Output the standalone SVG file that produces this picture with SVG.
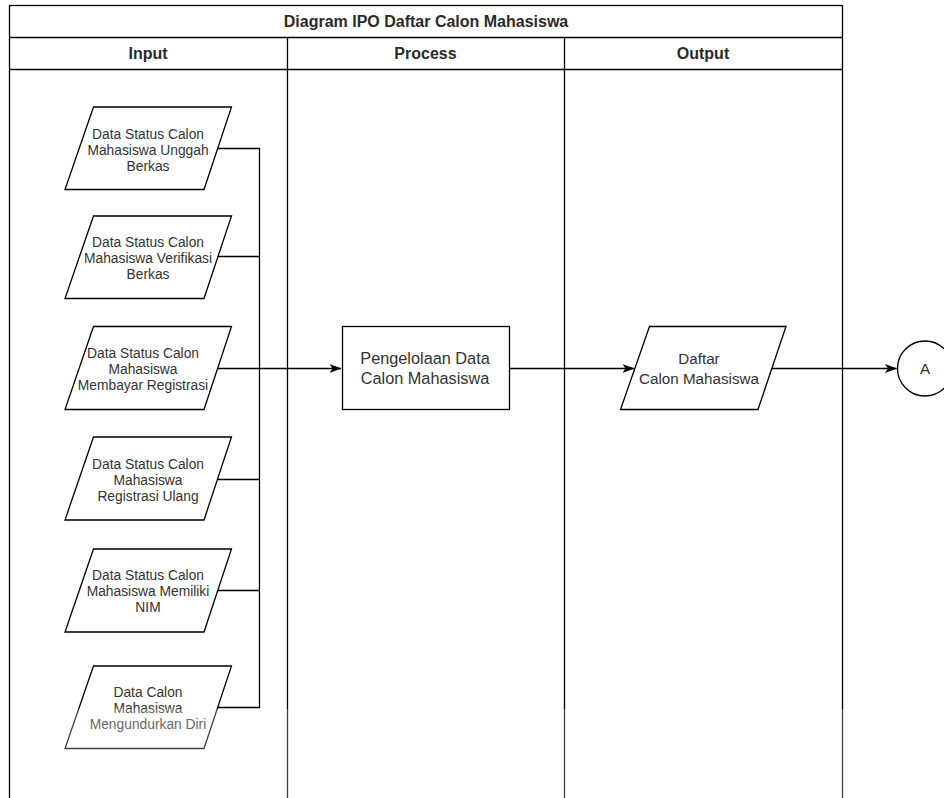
<svg xmlns="http://www.w3.org/2000/svg" width="944" height="798" viewBox="0 0 944 798">
  <style>
    .frame { fill: none; stroke: #000; stroke-width: 1.3; }
    .shape { fill: #fff; stroke: #000; stroke-width: 1.3; }
    .wire { fill: none; stroke: #000; stroke-width: 1.3; }
    .head { font-family: "Liberation Sans", Arial, sans-serif; font-size: 16px; font-weight: bold; fill: #2a2a2a; text-anchor: middle; }
    .lbl { font-family: "Liberation Sans", Arial, sans-serif; font-size: 13.8px; fill: #333; text-anchor: middle; }
    .big { font-family: "Liberation Sans", Arial, sans-serif; font-size: 16.3px; fill: #333; text-anchor: middle; }
    .mid { font-family: "Liberation Sans", Arial, sans-serif; font-size: 15.2px; fill: #333; text-anchor: middle; }
  </style>
  <defs>
    <marker id="arrow" viewBox="0 0 12 10" refX="11.5" refY="5" markerWidth="12" markerHeight="10" markerUnits="userSpaceOnUse" orient="auto">
      <path d="M0,0.5 L12,5 L0,9.5 L3,5 Z" fill="#000"/>
    </marker>
  </defs>

  <rect width="944" height="798" fill="#fff"/>

  <!-- swimlane frame -->
  <g id="pool">
    <rect class="frame" x="9.5" y="5.5" width="833" height="820"/>
    <line class="frame" x1="9.5" y1="37.5" x2="842.5" y2="37.5"/>
    <line class="frame" x1="9.5" y1="69.5" x2="842.5" y2="69.5"/>
    <line class="frame" x1="287.5" y1="37.5" x2="287.5" y2="800"/>
    <line class="frame" x1="564.5" y1="37.5" x2="564.5" y2="800"/>
    <text class="head" x="426" y="27">Diagram IPO Daftar Calon Mahasiswa</text>
    <text class="head" x="148" y="59">Input</text>
    <text class="head" x="425.5" y="59">Process</text>
    <text class="head" x="703" y="59">Output</text>
  </g>

  <!-- connectors: inputs merge on a shared bus into the process -->
  <g id="connectors">
    <polyline class="wire" points="218,148.5 259.5,148.5 259.5,707.5 218,707.5"/>
    <line class="wire" x1="218" y1="256.5" x2="259.5" y2="256.5"/>
    <line class="wire" x1="218" y1="479.5" x2="259.5" y2="479.5"/>
    <line class="wire" x1="218" y1="590.5" x2="259.5" y2="590.5"/>
    <line class="wire" x1="218" y1="368.5" x2="341" y2="368.5" marker-end="url(#arrow)"/>
    <line class="wire" x1="509.5" y1="368.5" x2="634" y2="368.5" marker-end="url(#arrow)"/>
    <line class="wire" x1="772" y1="368.5" x2="896.5" y2="368.5" marker-end="url(#arrow)"/>
  </g>

  <!-- inputs -->
  <g id="in-unggah">
    <polygon class="shape" points="93.5,107 231.5,107 204,189.5 65,189.5"/>
    <text class="lbl" x="148" y="138.5">Data Status Calon</text>
    <text class="lbl" x="148" y="154.5">Mahasiswa Unggah</text>
    <text class="lbl" x="148" y="170.5">Berkas</text>
  </g>
  <g id="in-verifikasi">
    <polygon class="shape" points="93.5,216 231.5,216 204,298.5 65,298.5"/>
    <text class="lbl" x="148" y="246.5">Data Status Calon</text>
    <text class="lbl" x="148" y="262.5">Mahasiswa Verifikasi</text>
    <text class="lbl" x="148" y="278.5">Berkas</text>
  </g>
  <g id="in-bayar">
    <polygon class="shape" points="93.5,326.5 231.5,326.5 204,409.5 65,409.5"/>
    <text class="lbl" x="143" y="358">Data Status Calon</text>
    <text class="lbl" x="143" y="374">Mahasiswa</text>
    <text class="lbl" x="143" y="390">Membayar Registrasi</text>
  </g>
  <g id="in-ulang">
    <polygon class="shape" points="93.5,437 231.5,437 204,520 65,520"/>
    <text class="lbl" x="148" y="468.5">Data Status Calon</text>
    <text class="lbl" x="148" y="484.5">Mahasiswa</text>
    <text class="lbl" x="148" y="500.5">Registrasi Ulang</text>
  </g>
  <g id="in-nim">
    <polygon class="shape" points="93.5,549 231.5,549 204,632 65,632"/>
    <text class="lbl" x="148" y="580">Data Status Calon</text>
    <text class="lbl" x="148" y="596">Mahasiswa Memiliki</text>
    <text class="lbl" x="148" y="612">NIM</text>
  </g>
  <g id="in-mundur">
    <polygon class="shape" points="93.5,666 231.5,666 204,748.5 65,748.5"/>
    <text class="lbl" x="148" y="696.5">Data Calon</text>
    <text class="lbl" x="148" y="712.5">Mahasiswa</text>
    <text class="lbl" x="148" y="728.5">Mengundurkan Diri</text>
  </g>

  <!-- process -->
  <g id="proc">
    <rect class="shape" x="342.5" y="326.5" width="167" height="83"/>
    <text class="big" x="425" y="364">Pengelolaan Data</text>
    <text class="big" x="425" y="384">Calon Mahasiswa</text>
  </g>

  <!-- output -->
  <g id="out-daftar">
    <polygon class="shape" points="649.5,326.5 786,326.5 758,409.5 620.5,409.5"/>
    <text class="mid" x="699" y="364">Daftar</text>
    <text class="mid" x="699" y="384">Calon Mahasiswa</text>
  </g>

  <!-- off-page connector -->
  <g id="ref-a">
    <circle class="shape" cx="925" cy="368.5" r="27.5"/>
    <text class="mid" x="925" y="374">A</text>
  </g>

  <!-- faded lower strip -->
  <rect x="20" y="709" width="924" height="90" fill="#fff" opacity="0.25"/>
</svg>
